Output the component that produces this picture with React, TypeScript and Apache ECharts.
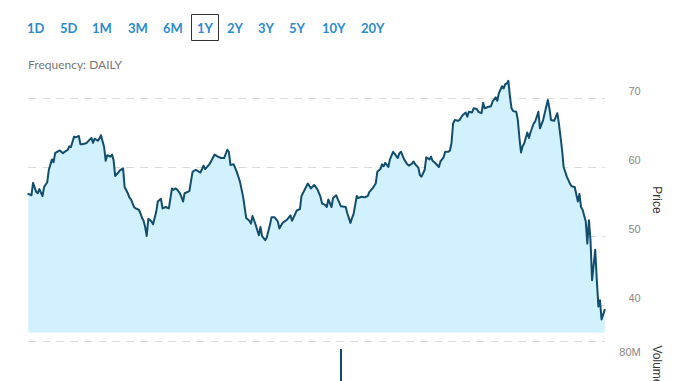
import React, { useEffect, useRef } from "react";
import * as echarts from "echarts";

// Calendar-day offsets from the first day of the 1Y window
const dayOffsets = [
  0, 2, 3, 5, 6, 7, 9, 10, 12, 13, 15, 16, 17, 19, 20, 22, 23, 25, 26, 27,
  29, 30, 32, 33, 34, 36, 37, 39, 40, 41, 42, 44, 45, 46, 48, 49, 50, 52, 53, 54,
  55, 57, 58, 60, 61, 63, 64, 65, 67, 68, 70, 71, 72, 73, 74, 75, 76, 78, 79, 81,
  82, 84, 85, 87, 88, 89, 91,
  92, 93, 94, 96, 98, 99, 101, 102, 104, 106, 109, 111, 112, 115, 118, 120, 122, 124, 126, 127,
  128, 130, 132, 134, 136, 138, 140, 141, 142, 144, 146, 147, 148, 150, 151, 153, 154, 156, 158, 159,
  161, 164, 166, 167, 170, 172, 173, 175, 177, 179, 181, 183,
  185, 186, 188, 189, 190, 192, 193, 195, 196, 198, 201, 202, 204, 205, 206, 208, 209, 211, 213, 215,
  216, 218, 220, 221, 223, 224, 225, 226, 228, 229, 231, 232, 234, 235, 236, 238, 240, 241, 243, 244,
  245, 247, 248, 249, 251, 252, 254, 255, 256, 258, 260, 261, 263, 264, 266, 267, 268, 269, 270, 272,
  273,
  275, 277, 278, 279, 281, 282, 284, 285, 287, 288, 289, 291, 293, 294, 296, 297, 298, 300, 301, 302,
  303, 304, 305, 306, 307, 309, 310, 311, 312, 313, 314, 315, 316, 317, 318, 320, 321, 323, 324, 326,
  327, 329, 330, 331, 333, 335, 336, 337, 338, 339, 341, 343, 344, 346, 348, 349, 350, 351, 353, 354,
  355, 356, 357, 359, 360, 361, 362, 363, 365,
];

// Daily closing price
const prices = [
  56.1, 55.9, 57.7, 56.4, 56.2, 56.8, 55.8, 57.1, 57.8, 59.6,
  61.1, 60.7, 62.0, 62.3, 62.4, 62.0, 62.2, 62.5, 63.0, 62.9,
  64.4, 64.3, 64.5, 63.3, 63.3, 63.4, 63.5, 64.0, 64.2, 63.5,
  64.1, 63.8, 64.1, 64.6, 62.9, 60.9, 61.7, 61.5, 61.8, 61.0,
  58.7, 59.2, 59.5, 59.8, 57.1, 56.2, 55.6, 55.3, 54.2, 54.0,
  53.8, 53.3, 52.6, 52.2, 51.3, 50.0, 52.5, 52.1, 51.7, 53.5,
  55.0, 55.4, 54.0, 54.2, 54.1, 54.0, 56.9,
  56.7, 56.9, 56.8, 56.2, 55.0, 56.2, 56.4, 56.5, 59.3, 59.6,
  59.2, 60.2, 59.7, 60.5, 61.8, 61.5, 61.3, 61.3, 62.5, 62.2,
  60.3, 60.4, 59.3, 57.9, 55.7, 52.6, 52.2, 51.8, 52.9, 51.6,
  50.1, 51.3, 50.0, 49.4, 49.8, 51.6, 52.7, 52.7, 52.1, 51.1,
  51.9, 52.4, 53.0, 52.2, 53.7, 53.9, 55.8, 56.7, 57.6, 56.9,
  57.4, 56.8,
  55.7, 54.7, 54.5, 54.2, 55.3, 54.2, 55.5, 55.9, 55.3, 54.3,
  54.2, 53.3, 51.9, 52.6, 53.2, 55.8, 55.5, 55.7, 55.6, 55.8,
  56.4, 56.9, 57.6, 59.3, 59.7, 60.4, 60.1, 60.6, 60.0, 61.1,
  62.2, 61.9, 61.3, 62.0, 62.2, 61.1, 60.4, 60.2, 60.5, 60.8,
  60.4, 59.9, 58.8, 58.6, 59.6, 61.4, 61.1, 61.5, 60.9, 60.5,
  60.0, 60.8, 61.4, 62.2, 62.2, 62.4, 63.5, 66.3, 66.8, 66.7,
  66.8,
  67.5, 67.9, 67.3, 68.0, 67.9, 68.5, 68.4, 68.0, 67.8, 69.3,
  68.5, 68.7, 68.8, 69.5, 70.1, 69.6, 70.7, 71.7, 71.4, 72.0,
  72.1, 72.5, 70.2, 68.5, 68.1, 68.0, 66.8, 64.2, 62.1, 63.0,
  63.4, 64.2, 65.0, 64.2, 65.0, 66.3, 66.6, 68.0, 65.6, 66.8,
  67.8, 69.7, 68.5, 66.8, 66.7, 67.8, 66.3, 64.4, 62.5, 60.0,
  58.6, 57.6, 57.2, 57.1, 55.0, 56.1, 54.2, 53.8, 52.1, 48.9,
  52.3, 49.4, 43.6, 48.0, 43.6, 39.8, 40.7, 37.9, 39.3,
];

// Only the visible volume bar
const volumeDays = [198];
const volumes = [76000000];

const priceTicks = [40, 50, 60, 70];
const volumeTicks = [80000000];

const rangeButtons = ["1D", "5D", "1M", "3M", "6M", "1Y", "2Y", "3Y", "5Y", "10Y", "20Y"];
const selectedRange = "1Y";
const frequencyText = "Frequency: DAILY";
const priceTitle = "Price";
const volumeTitle = "Volume";

export default function App() {
  const ref = useRef<HTMLDivElement>(null);

  useEffect(() => {
    if (!ref.current) return;
    const chart = echarts.init(ref.current, undefined, { renderer: "svg" });

    const buttonX = [27, 60, 92, 128, 163, 197, 227, 258, 289, 322, 361];
    const selIdx = rangeButtons.indexOf(selectedRange);

    const graphics: any[] = rangeButtons.map((t, i) => ({
      type: "text",
      x: buttonX[i],
      y: 27.5,
      silent: true,
      style: {
        text: t,
        font: 'bold 13px Lato',
        fill: "#2b8bd0",
        textVerticalAlign: "middle",
        verticalAlign: "middle",
      },
    }));
    if (selIdx >= 0) {
      graphics.push({
        type: "rect",
        silent: true,
        shape: { x: 191.5, y: 14.5, width: 27, height: 26 },
        style: { fill: "none", stroke: "#333", lineWidth: 1 },
      });
    }
    graphics.push({
      type: "text",
      x: 28,
      y: 64,
      silent: true,
      style: {
        text: frequencyText,
        font: '12px Lato',
        fill: "#777",
        textVerticalAlign: "middle",
        verticalAlign: "middle",
      },
    });
    graphics.push({
      type: "text",
      x: 657,
      y: 200,
      rotation: -Math.PI / 2,
      silent: true,
      style: {
        text: priceTitle,
        font: '12px "Liberation Sans"',
        fill: "#333",
        textAlign: "center",
        align: "center",
        textVerticalAlign: "middle",
        verticalAlign: "middle",
      },
    });
    graphics.push({
      type: "text",
      x: 657,
      y: 365.5,
      rotation: -Math.PI / 2,
      silent: true,
      style: {
        text: volumeTitle,
        font: '12px "Liberation Sans"',
        fill: "#333",
        textAlign: "center",
        align: "center",
        textVerticalAlign: "middle",
        verticalAlign: "middle",
      },
    });

    const dashed = { color: "#dadada", width: 1, type: [8, 6] as any };
    const labelBase = {
      color: "#888",
      fontSize: 11,
      fontFamily: '"Liberation Sans", Arial, sans-serif',
      align: "right" as const,
      margin: 36,
    };

    chart.setOption({
      animation: false,
      graphic: graphics,
      grid: [
        { left: 28.3, right: 73.3, top: 70.4, height: 262.2, outerBoundsMode: "none" },
        { left: 28.3, right: 73.3, top: 341, height: 160, outerBoundsMode: "none" },
      ],
      xAxis: [
        { type: "value", gridIndex: 0, min: 0, max: 365, show: false },
        { type: "value", gridIndex: 1, min: 0, max: 365, show: false },
      ],
      yAxis: [
        {
          type: "value",
          gridIndex: 0,
          position: "right",
          min: 36,
          max: 74,
          axisLine: { show: false },
          axisTick: { show: false, customValues: priceTicks },
          axisLabel: { ...labelBase, customValues: priceTicks, verticalAlign: "bottom", padding: [0, 0, 2, 0] },
          splitLine: { show: true, lineStyle: dashed },
        },
        {
          type: "value",
          gridIndex: 1,
          position: "right",
          min: 0,
          max: volumeTicks[0],
          interval: volumeTicks[0],
          axisLine: { show: false },
          axisTick: { show: false },
          axisLabel: {
            ...labelBase,
            showMinLabel: false,
            verticalAlign: "top",
            padding: [5, 0, 0, 0],
            formatter: (v: number) => v / 1000000 + "M",
          },
          splitLine: { show: true, lineStyle: dashed },
        },
      ],
      series: [
        {
          type: "line",
          xAxisIndex: 0,
          yAxisIndex: 0,
          data: dayOffsets.map((d, i) => [d, prices[i]]),
          showSymbol: false,
          symbol: "none",
          silent: true,
          lineStyle: { color: "#124d6d", width: 2, join: "round", cap: "round" },
          areaStyle: { color: "#d0f1fd", opacity: 1 },
        },
        {
          type: "bar",
          xAxisIndex: 1,
          yAxisIndex: 1,
          data: volumeDays.map((d, i) => [d, volumes[i]]),
          barWidth: 2,
          silent: true,
          itemStyle: { color: "#124d6d" },
        },
      ],
    });

    return () => chart.dispose();
  }, []);

  return (
    <div
      ref={ref}
      style={{ position: "absolute", left: 0, top: 0, width: 678, height: 381, overflow: "hidden", background: "#fff" }}
    />
  );
}
